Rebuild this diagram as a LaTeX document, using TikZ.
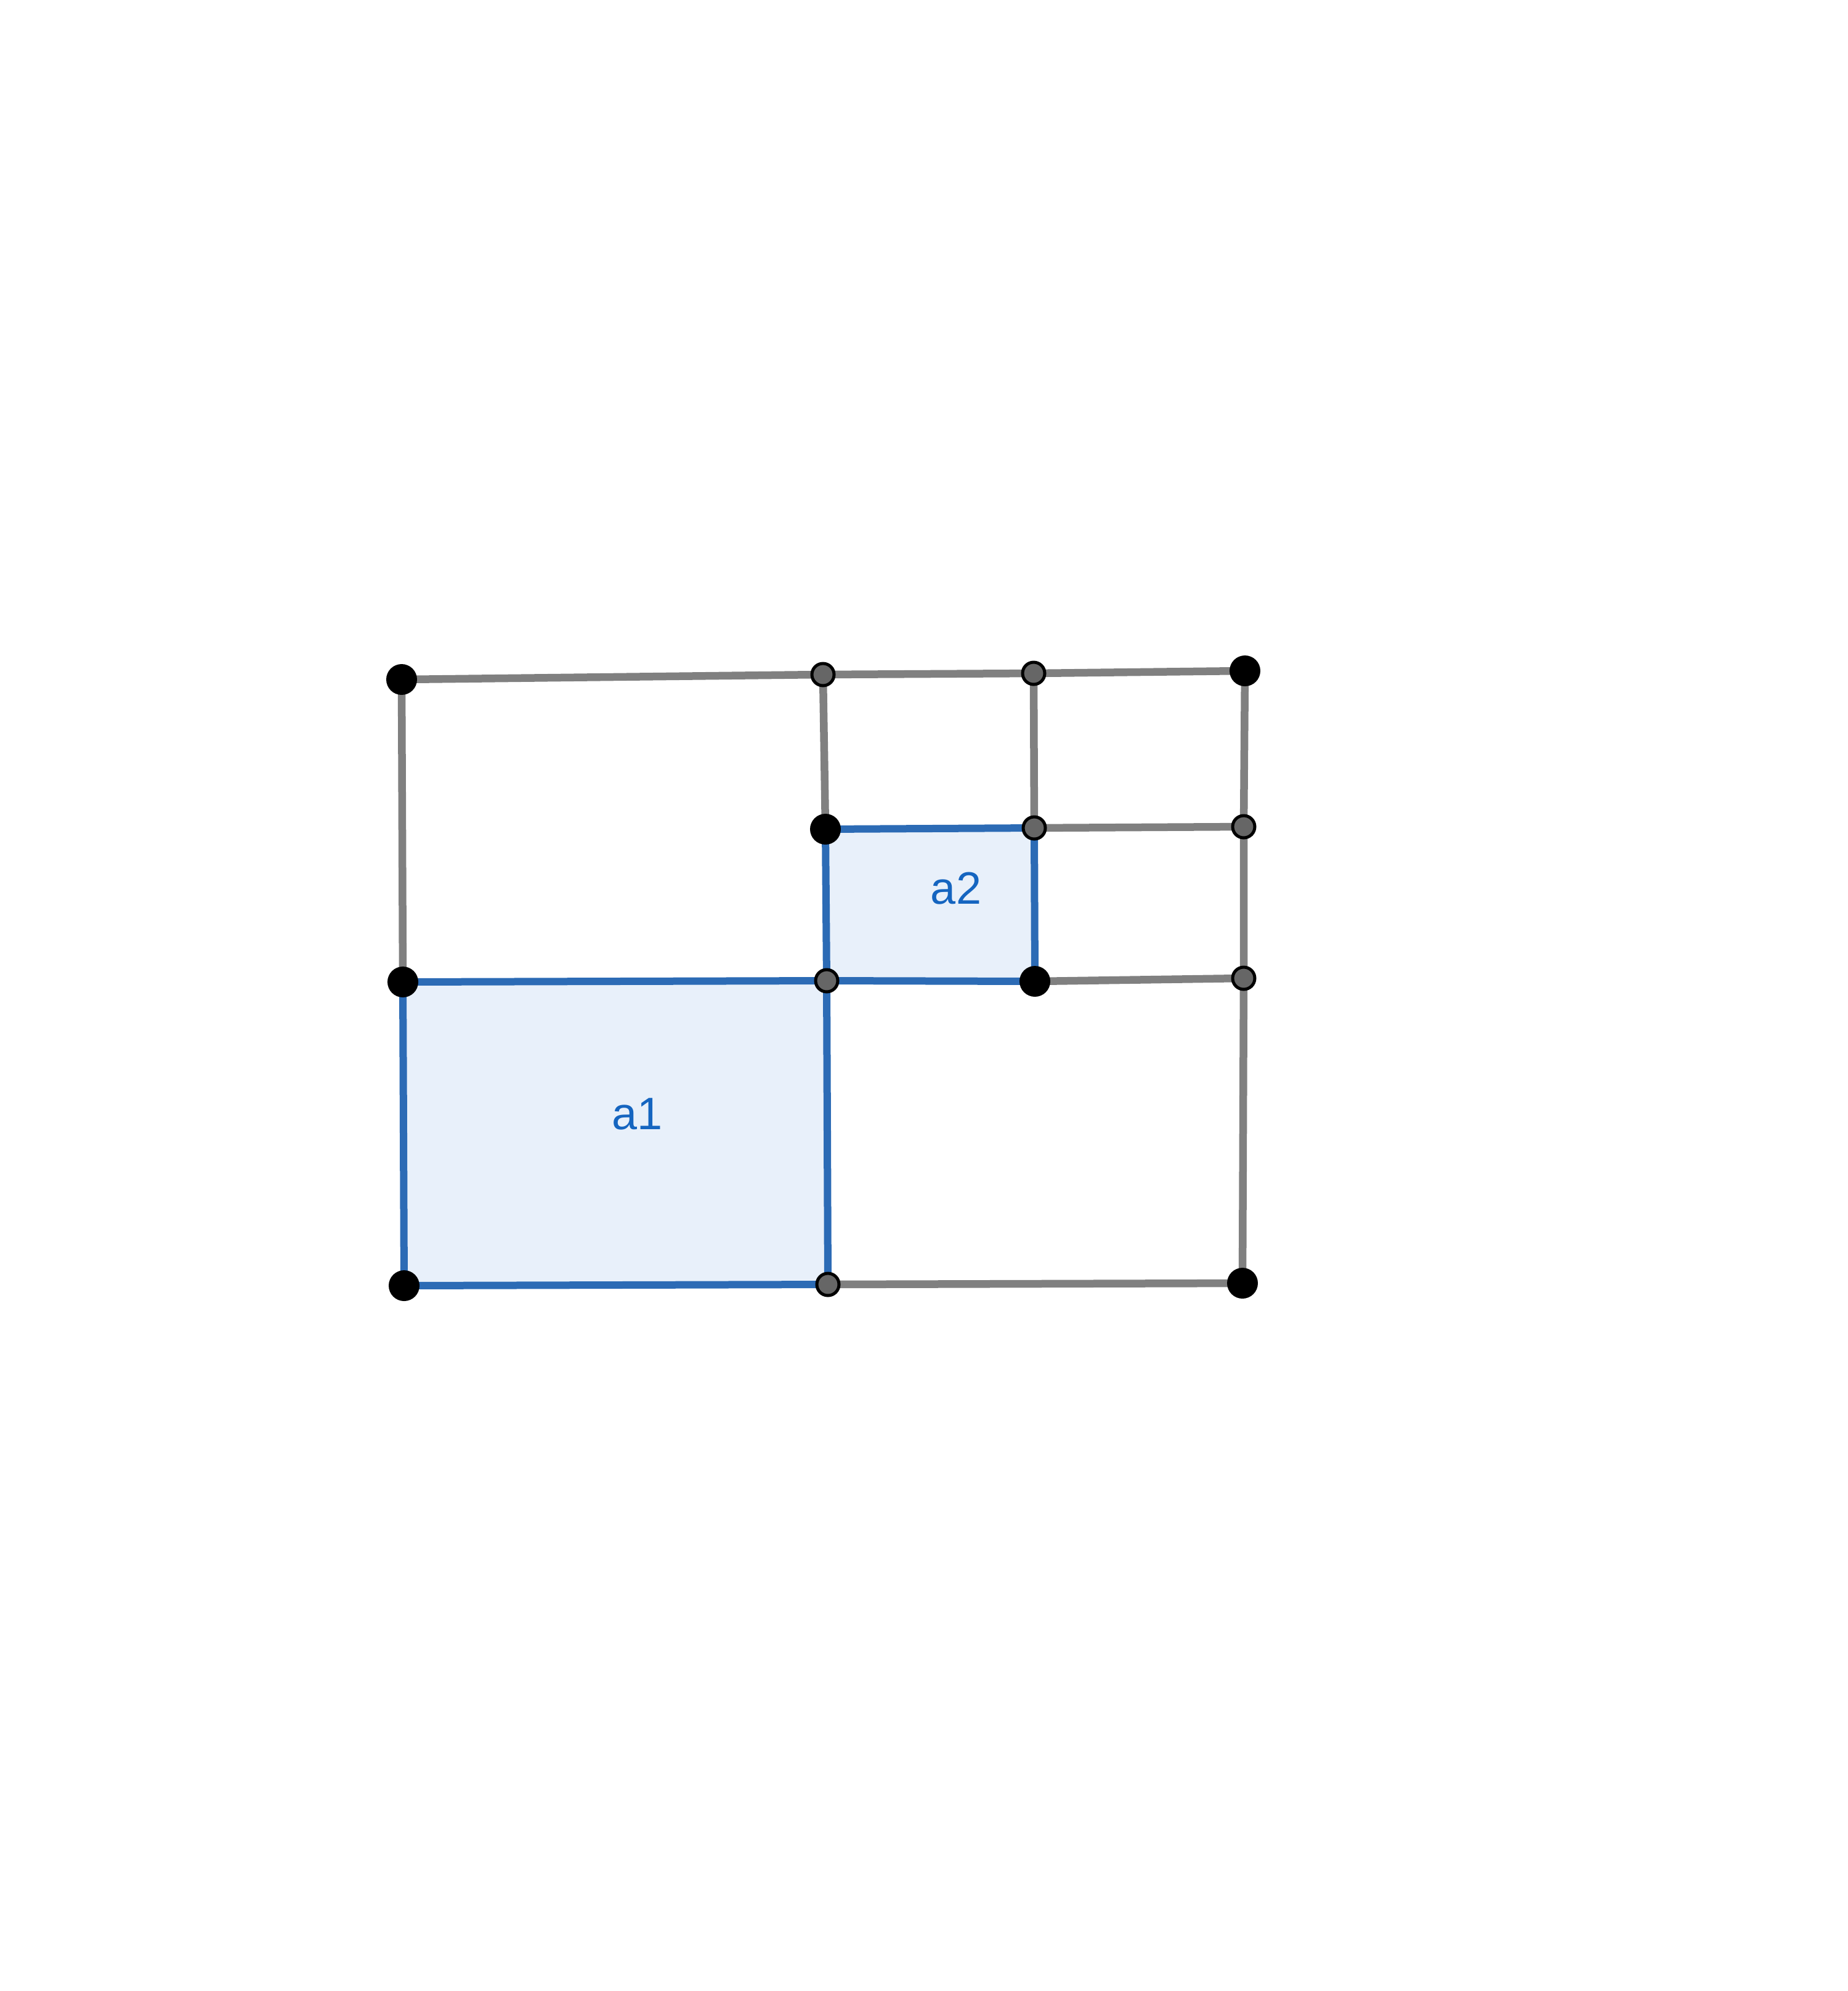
\documentclass[tikz,border=0pt]{standalone}
\usepackage{fontspec}
\setmainfont{Liberation Sans}
\usepackage[outline]{contour}
\contourlength{0.09em}
\usetikzlibrary{calc}

\definecolor{edgegray}{HTML}{808080}
\definecolor{polyblue}{HTML}{2C6BB5}
\definecolor{polyfill}{HTML}{E8F0FA}
\definecolor{labelblue}{HTML}{1565C0}
\definecolor{ptgray}{HTML}{666666}

\begin{document}
\begin{tikzpicture}[
    edge/.style={draw=edgegray, line width=1.25mm},
    polyedge/.style={draw=polyblue, line width=1.2mm, line join=round},
    polyregion/.style={fill=polyfill},
    bigpt/.style={fill=black},
    smallpt/.style={fill=ptgray, draw=black, line width=0.5mm},
    arealabel/.style={text=labelblue, font=\fontsize{21}{25}\selectfont}
]

% canvas
\useasboundingbox (0,0) rectangle (30,-32.32);

% === Points ===
\coordinate (A) at (6.52,-11.03);
\coordinate (B) at (13.36,-10.95);
\coordinate (C) at (16.78,-10.93);
\coordinate (D) at (20.21,-10.89);
\coordinate (E) at (13.40,-13.46);
\coordinate (F) at (16.79,-13.44);
\coordinate (G) at (20.19,-13.42);
\coordinate (H) at (6.54,-15.94);
\coordinate (I) at (13.42,-15.92);
\coordinate (J) at (16.80,-15.93);
\coordinate (K) at (20.19,-15.88);
\coordinate (L) at (6.56,-20.87);
\coordinate (M) at (13.44,-20.85);
\coordinate (N) at (20.17,-20.83);

% === Regions ===
\path[polyregion] (H) -- (I) -- (M) -- (L) -- cycle;
\path[polyregion] (E) -- (F) -- (J) -- (I) -- cycle;

% === Grid lines ===
\draw[edge] (A) -- (B) -- (C) -- (D);
\draw[edge] (A) -- (H);
\draw[edge] (B) -- (E);
\draw[edge] (C) -- (F);
\draw[edge] (D) -- (G) -- (K) -- (N);
\draw[edge] (F) -- (G);
\draw[edge] (J) -- (K);
\draw[edge] (M) -- (N);

% === Polygon outlines ===
\draw[polyedge] (H) -- (I) -- (M) -- (L) -- cycle;
\draw[polyedge] (E) -- (F) -- (J) -- (I) -- cycle;

% === Point markers ===
\foreach \p in {A,D,E,H,J,L,N}
  \fill[bigpt] (\p) circle (0.25);
\foreach \p in {B,C,F,G,I,K,M}
  \filldraw[smallpt] (\p) circle (0.18);

% === Labels ===
\node[arealabel] (a1) at (10.35,-18.08) {\contour{white}{a1}};
\node[arealabel] (a2) at (15.52,-14.42) {\contour{white}{a2}};

\end{tikzpicture}
\end{document}
